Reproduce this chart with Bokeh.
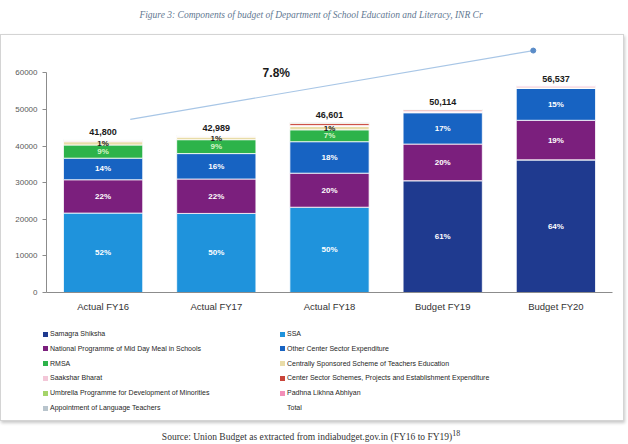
from bokeh.plotting import figure
from bokeh.models import (ColumnDataSource, Div, FixedTicker, Label)
from bokeh.layouts import column
from bokeh.embed import file_html
from bokeh.resources import INLINE
from bokeh.core.properties import value

# ---------------- data ----------------
categories = ["Actual FY16", "Actual FY17", "Actual FY18", "Budget FY19", "Budget FY20"]
totals = [41800, 42989, 46601, 50114, 56537]
total_labels = ["41,800", "42,989", "46,601", "50,114", "56,537"]

samagra_shiksha = [0, 0, 0, 30550, 36250]
ssa = [21700, 21600, 23300, 0, 0]
mid_day_meal = [9100, 9400, 9300, 10000, 10800]
other_center_sector = [5900, 6950, 8600, 8600, 8800]
rmsa = [3600, 3800, 3250, 0, 0]
teachers_education = [900, 700, 900, 0, 0]
saakshar_bharat = [350, 300, 300, 450, 0]
center_sector_schemes = [0, 0, 600, 300, 300]
umbrella_minorities = [150, 150, 150, 150, 50]
padhna_likhna = [0, 0, 0, 0, 300]
language_teachers = [100, 89, 201, 64, 37]

series_names = [
    "Samagra Shiksha",
    "SSA",
    "National Programme of Mid Day Meal in Schools",
    "Other Center Sector Expenditure",
    "RMSA",
    "Centrally Sponsored Scheme of Teachers Education",
    "Saakshar Bharat",
    "Center Sector Schemes, Projects and Establishment Expenditure",
    "Umbrella Programme for Development of Minorities",
    "Padhna Likhna Abhiyan",
    "Appointment of Language Teachers",
]
series_values = [samagra_shiksha, ssa, mid_day_meal, other_center_sector, rmsa,
                 teachers_education, saakshar_bharat, center_sector_schemes,
                 umbrella_minorities, padhna_likhna, language_teachers]
series_colors = ["#1f3a8f", "#1f93dc", "#7b1f7d", "#1763c2", "#2db34a",
                 "#e9dca8", "#f3c7d8", "#c9453a", "#a5d46a", "#f28fb8", "#b8c4cc"]

pct_labels = [
    ["", "", "", "61%", "64%"],
    ["52%", "50%", "50%", "", ""],
    ["22%", "22%", "20%", "20%", "19%"],
    ["14%", "16%", "18%", "17%", "15%"],
    ["9%", "9%", "7%", "", ""],
    ["1%", "1%", "1%", "", ""],
]
pct_colors = ["white", "white", "white", "white", "#d8f5c8", "#1a1a1a"]

growth_label = "7.8%"
y_ticks = [0, 10000, 20000, 30000, 40000, 50000, 60000]

title_text = "Figure 3: Components of budget of Department of School Education and Literacy, INR Cr"
source_text = "Source: Union Budget as extracted from indiabudget.gov.in (FY16 to FY19)<sup>18</sup>"

W = 612

# ---------------- main chart ----------------
xs = list(range(len(categories)))
keys = [f"s{i}" for i in range(len(series_names))]
data = {"x": xs}
for k, v in zip(keys, series_values):
    data[k] = v
src = ColumnDataSource(data)

p = figure(width=W, height=284, output_backend="svg", toolbar_location=None,
           x_range=(-0.5, len(categories) - 0.5), y_range=(0, 68300),
           min_border_left=45, min_border_right=1, min_border_top=7, min_border_bottom=27)
p.outline_line_color = None
p.grid.grid_line_color = None

renderers = p.vbar_stack(keys, x="x", width=0.7, source=src,
                         fill_color=series_colors, line_color="white", line_width=0.8)

# percentage labels at segment centres
lx, ly, lt, lc = [], [], [], []
cum = [0] * len(xs)
for si, vals in enumerate(series_values):
    for j in xs:
        if si < len(pct_labels) and pct_labels[si][j]:
            lx.append(j)
            ly.append(cum[j] + vals[j] / 2)
            lt.append(pct_labels[si][j])
            lc.append(pct_colors[si])
    cum = [c + v for c, v in zip(cum, vals)]
lsrc = ColumnDataSource(dict(x=lx, y=ly, t=lt, c=lc))
p.text(x="x", y="y", text="t", text_color="c", source=lsrc, text_align="center",
       text_baseline="middle", text_font=value("Liberation Sans"), text_font_size="8px",
       text_font_style="bold")

# totals
tsrc = ColumnDataSource(dict(x=xs, y=totals, t=total_labels))
p.text(x="x", y="y", text="t", source=tsrc, text_align="center", text_baseline="bottom",
       y_offset=-4, text_font=value("Liberation Sans"), text_font_size="9px",
       text_font_style="bold", text_color="#1a1a1a")

# growth arrow
p.line(x=[0.24, 3.8], y=[47300, 66100], line_color="#a8c6e6", line_width=1.2)
p.scatter(x=[3.8], y=[66100], size=5, fill_color="#5a8cc8", line_color="#5a8cc8")
p.add_layout(Label(x=1.53, y=60100, text=growth_label, text_align="center",
                   text_baseline="middle", text_font="Liberation Sans",
                   text_font_size="12px", text_font_style="bold", text_color="#1a1a1a"))

# axes
p.yaxis.ticker = FixedTicker(ticks=y_ticks)
p.yaxis.bounds = (0, 60000)
p.yaxis.axis_line_color = "#8c8c8c"
p.yaxis.major_tick_line_color = "#8c8c8c"
p.yaxis.major_tick_in = 0
p.yaxis.major_tick_out = 4
p.yaxis.minor_tick_line_color = None
p.yaxis.major_label_text_font = "Liberation Sans"
p.yaxis.major_label_text_font_size = "8px"
p.yaxis.major_label_text_color = "#595959"

p.xaxis.ticker = FixedTicker(ticks=xs)
p.xaxis.major_label_overrides = {i: c for i, c in zip(xs, categories)}
p.xaxis.axis_line_color = "#8c8c8c"
p.xaxis.major_tick_line_color = None
p.xaxis.minor_tick_line_color = None
p.xaxis.major_label_text_font = "Liberation Sans"
p.xaxis.major_label_text_font_size = "9.5px"
p.xaxis.major_label_text_color = "#333333"
p.xaxis.major_label_standoff = 2

# ---------------- legend panel (two columns, read row by row) ----------------
cells = []
for n, c in zip(series_names, series_colors):
    cells.append(f'<div style="height:14.8px;line-height:14.8px;white-space:nowrap;">'
                 f'<span style="display:inline-block;width:5px;height:5px;background:{c};'
                 f'margin-right:2px;vertical-align:middle;"></span>{n}</div>')
cells.append('<div style="height:14.8px;line-height:14.8px;white-space:nowrap;">'
             '<span style="display:inline-block;width:5px;height:5px;margin-right:2px;'
             'vertical-align:middle;"></span>Total</div>')
legend_html = ('<div style="display:grid;grid-template-columns:237px 237px;'
               'padding:2px 0 0 37px;font-family:\'Liberation Sans\';font-size:7px;'
               'color:#262626;">' + "".join(cells) + '</div>')
legend_div = Div(text=legend_html, width=W, height=91)

box = column(p, legend_div, spacing=0,
             styles={"border": "1px solid #d4d4d4", "box-shadow": "1px 2px 3px #c8c8c8"})

title_div = Div(text=f'<div style="width:612px;text-align:center;font-family:\'Liberation Serif\';'
                     f'font-style:italic;font-size:9.5px;color:#5f7892;line-height:20px;">{title_text}</div>',
                width=W, height=24)
source_div = Div(text=f'<div style="width:612px;text-align:center;font-family:\'Liberation Serif\';'
                      f'font-size:9.5px;color:#333;line-height:15px;">{source_text}</div>',
                 width=W, height=15)

layout = column(title_div, box, source_div, spacing=0)
open("out.html", "w").write(file_html(layout, INLINE))
